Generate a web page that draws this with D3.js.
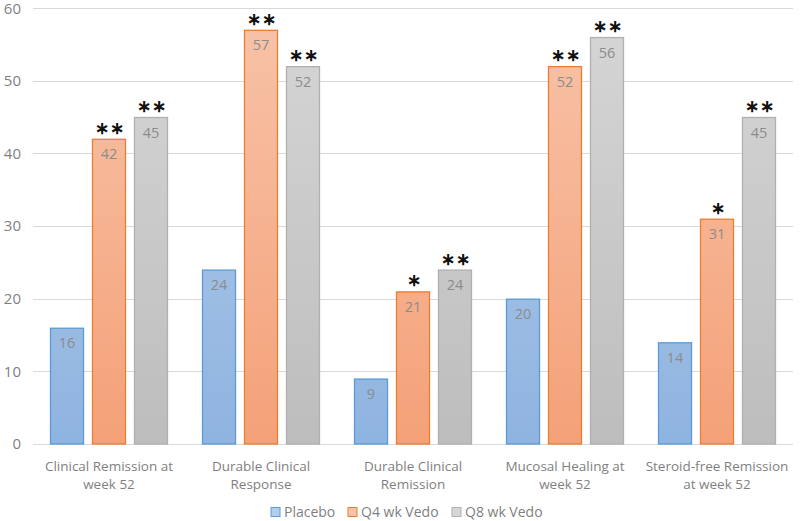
<!DOCTYPE html>
<html><head><meta charset="utf-8">
<script src="https://cdn.jsdelivr.net/npm/d3@7"></script>
<style>body{margin:0;background:#fff}svg{display:block;font-family:"Open Sans","Noto Sans",sans-serif}</style>
</head><body><svg id="c" width="800" height="521"></svg>
<script>
const categories = [["Clinical Remission at","week 52"],["Durable Clinical","Response"],["Durable Clinical","Remission"],["Mucosal Healing at","week 52"],["Steroid-free Remission","at week 52"]];
const seriesNames = ["Placebo","Q4 wk Vedo","Q8 wk Vedo"];
const placebo = [16,24,9,20,14];
const q4 = [42,57,21,52,31];
const q8 = [45,52,24,56,45];
const stars = [["","**","**"],["","**","**"],["","*","**"],["","**","**"],["","*","**"]];
const yTicks = [0,10,20,30,40,50,60];

const values = [placebo,q4,q8];
const fills = [["#b4cdea","#8fb4e0"],["#f8c3a8","#f4a178"],["#d6d6d6","#bdbdbd"]];
const strokes = ["#5b9bd5","#ed7d31","#b0b0b0"];
const svg = d3.select("#c");
const m = {l:33,r:793,t:8,b:444};
const x0 = d3.scaleBand().domain(d3.range(categories.length)).range([m.l,m.r]).paddingInner(0).paddingOuter(0);
const x1 = d3.scaleBand().domain([0,1,2]).range([17, x0.bandwidth()-17]).paddingInner(0.19).paddingOuter(0);
const y = d3.scaleLinear().domain([0,60]).range([m.b,m.t]);

const defs = svg.append("defs");
fills.forEach((f,i)=>{
  const g = defs.append("linearGradient").attr("id","g"+i).attr("x1",0).attr("x2",0).attr("gradientUnits","userSpaceOnUse").attr("y1",m.t).attr("y2",m.b);
  g.append("stop").attr("offset","0").attr("stop-color",f[0]);
  g.append("stop").attr("offset","1").attr("stop-color",f[1]);
});

// grid
svg.append("g").selectAll("line").data(yTicks).join("line")
  .attr("x1",m.l).attr("x2",m.r).attr("y1",d=>Math.round(y(d))+0.5).attr("y2",d=>Math.round(y(d))+0.5)
  .attr("stroke","#d9d9d9").attr("stroke-width",1);
// y axis labels
const yAxis = d3.axisLeft(y).tickValues(yTicks).tickSize(0).tickPadding(0);
const ya = svg.append("g").attr("transform",`translate(21,0)`).call(yAxis);
ya.select(".domain").remove();
ya.selectAll("text").attr("font-size",15).attr("fill","#7f7f7f").attr("font-family","'Open Sans',sans-serif")
  .attr("dy",d=>d===60?"0.38em":"0.32em");

// bars
values.forEach((vals,s)=>{
  const g = svg.append("g");
  g.selectAll("rect").data(vals).join("rect")
    .attr("x",(d,i)=>x0(i)+x1(s)+0.5).attr("y",d=>y(d)+0.5)
    .attr("width",x1.bandwidth()-1).attr("height",d=>y(0)-y(d)-0.5)
    .attr("fill",`url(#g${s})`).attr("stroke",strokes[s]).attr("stroke-width",1.3);
  g.selectAll("text.v").data(vals).join("text").attr("class","v")
    .attr("x",(d,i)=>x0(i)+x1(s)+x1.bandwidth()/2).attr("y",d=>y(d)+20.5)
    .attr("text-anchor","middle").attr("font-size",14.5).attr("fill","#8c8c8c").text(d=>d);
  g.selectAll("text.s").data(vals).join("text").attr("class","s")
    .attr("x",(d,i)=>x0(i)+x1(s)+x1.bandwidth()/2+1).attr("y",d=>y(d)-5)
    .attr("text-anchor","middle").attr("font-size",17).attr("font-weight","bold").attr("fill","#111")
    .attr("letter-spacing",1)
    .text((d,i)=>stars[i][s].replace(/\*/g,"\u2217"));
});

// category labels
const cl = svg.append("g");
categories.forEach((c,i)=>{
  c.forEach((line,j)=>{
    cl.append("text").attr("x",x0(i)+x0.bandwidth()/2).attr("y",470.5+j*18)
      .attr("text-anchor","middle").attr("font-size",13.5).attr("fill","#7f7f7f").text(line);
  });
});

// legend
const leg = svg.append("g");
const lx = [271,348,452];
seriesNames.forEach((n,i)=>{
  leg.append("rect").attr("x",lx[i]).attr("y",507.5).attr("width",9).attr("height",9)
    .attr("fill",fills[i][0]).attr("stroke",strokes[i]).attr("stroke-width",1);
  leg.append("text").attr("x",lx[i]+13).attr("y",517).attr("font-size",14).attr("fill","#7f7f7f").text(n);
});
</script></body></html>
